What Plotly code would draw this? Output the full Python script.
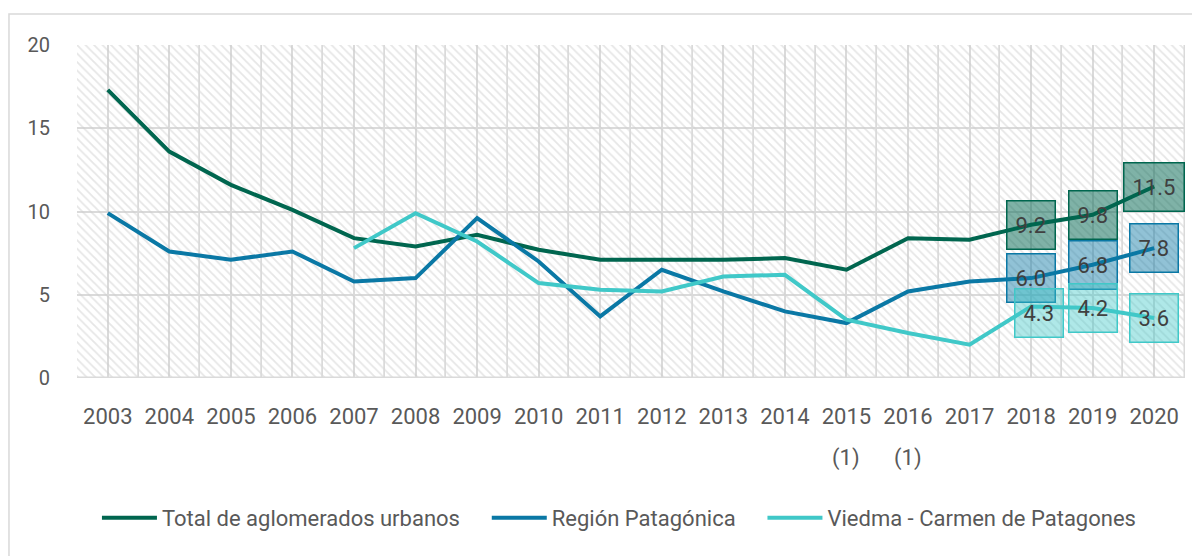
import plotly.graph_objects as go

# ---------------- data ----------------
years = ["2003", "2004", "2005", "2006", "2007", "2008", "2009", "2010", "2011",
         "2012", "2013", "2014", "2015", "2016", "2017", "2018", "2019", "2020"]
total_aglomerados = [17.3, 13.6, 11.6, 10.1, 8.4, 7.9, 8.6, 7.7, 7.1,
                     7.1, 7.1, 7.2, 6.5, 8.4, 8.3, 9.2, 9.8, 11.5]
region_patagonica = [9.9, 7.6, 7.1, 7.6, 5.8, 6.0, 9.6, 7.0, 3.7,
                     6.5, 5.2, 4.0, 3.3, 5.2, 5.8, 6.0, 6.8, 7.8]
viedma_patagones = [None, None, None, None, 7.8, 9.9, 8.2, 5.7, 5.3,
                    5.2, 6.1, 6.2, 3.5, 2.7, 2.0, 4.3, 4.2, 3.6]
series_names = ["Total de aglomerados urbanos", "Región Patagónica",
                "Viedma - Carmen de Patagones"]
labeled_years = ["2018", "2019", "2020"]
footnote_years = ["2015", "2016"]
footnote_text = "(1)"
y_ticks = [0, 5, 10, 15, 20]
y_max = 20

# ---------------- style ----------------
colors = ["#00664F", "#0A78A5", "#40C8C8"]
box_fills = ["rgba(0,102,79,0.50)", "rgba(10,120,165,0.45)", "rgba(64,200,200,0.42)"]
FONT = "Roboto"
TXT = "#595959"
GRID = "#dadada"
LEGEND_PAD = "\u00a0" * 4

fig = go.Figure()

# hatched plot background: one full-height band per category
fig.add_trace(go.Bar(
    x=years, y=[y_max] * len(years), width=1,
    marker=dict(color="rgba(0,0,0,0)",
                line=dict(color=GRID, width=1.5),
                pattern=dict(shape="\\", fgcolor="#cdcdcd", bgcolor="rgba(0,0,0,0)",
                             size=6, solidity=0.3)),
    showlegend=False, hoverinfo="skip"))

all_series = [total_aglomerados, region_patagonica, viedma_patagones]
for i, (name, vals, col) in enumerate(zip(series_names, all_series, colors)):
    shown = name + (LEGEND_PAD if i < len(series_names) - 1 else "")
    fig.add_trace(go.Scatter(
        x=years, y=vals, name=shown, mode="lines",
        line=dict(color=col, width=4), connectgaps=False))

# boxed data labels for the last three years
label_shift = {(2, "2018"): (8, -7)}
for si, (vals, col, fill) in enumerate(zip(all_series, colors, box_fills)):
    for yr in labeled_years:
        v = vals[years.index(yr)]
        xs, ys = label_shift.get((si, yr), (0, 0))
        fig.add_annotation(
            x=years.index(yr), y=v, xref="x", yref="y", text=f"{v:.1f}",
            showarrow=False, height=31,
            font=dict(family=FONT, size=22, color="#404040"),
            bgcolor=fill, bordercolor=col, borderwidth=1.5, borderpad=8,
            xshift=xs, yshift=ys)

# footnote markers under some year labels
for yr in footnote_years:
    fig.add_annotation(
        x=years.index(yr), y=0, xref="x", yref="paper", text=footnote_text,
        showarrow=False, font=dict(family=FONT, size=22, color=TXT),
        yanchor="middle", yshift=-80)

fig.update_layout(
    width=1200, height=556,
    margin=dict(l=69, r=23, t=37, b=186),
    paper_bgcolor="white", plot_bgcolor="white",
    font=dict(family=FONT, color=TXT),
    bargap=0,
    xaxis=dict(type="category", categoryorder="array", categoryarray=years,
               range=[-0.5, 17.5], showgrid=True, gridcolor=GRID, gridwidth=1.5,
               zeroline=False, showline=False,
               tickfont=dict(family=FONT, size=22, color=TXT),
               ticks="outside", ticklen=19, tickcolor="rgba(0,0,0,0)"),
    yaxis=dict(range=[0, y_max], tickvals=y_ticks, showgrid=True,
               gridcolor=GRID, gridwidth=1.5, zeroline=False, showline=False,
               tickfont=dict(family=FONT, size=20, color=TXT),
               ticks="outside", ticklen=22, tickcolor="rgba(0,0,0,0)"),
    legend=dict(orientation="h", x=0.018, xanchor="left", y=-0.42, yanchor="middle",
                font=dict(family=FONT, size=22, color=TXT), itemwidth=55,
                bgcolor="rgba(0,0,0,0)"),
    shapes=[dict(type="rect", xref="paper", yref="paper", x0=-0.0614, x1=1.05,
                 y0=-0.7, y1=1.093, line=dict(color="#d9d9d9", width=1.5),
                 fillcolor="rgba(0,0,0,0)", layer="below")],
)

fig.write_html("out.html")
